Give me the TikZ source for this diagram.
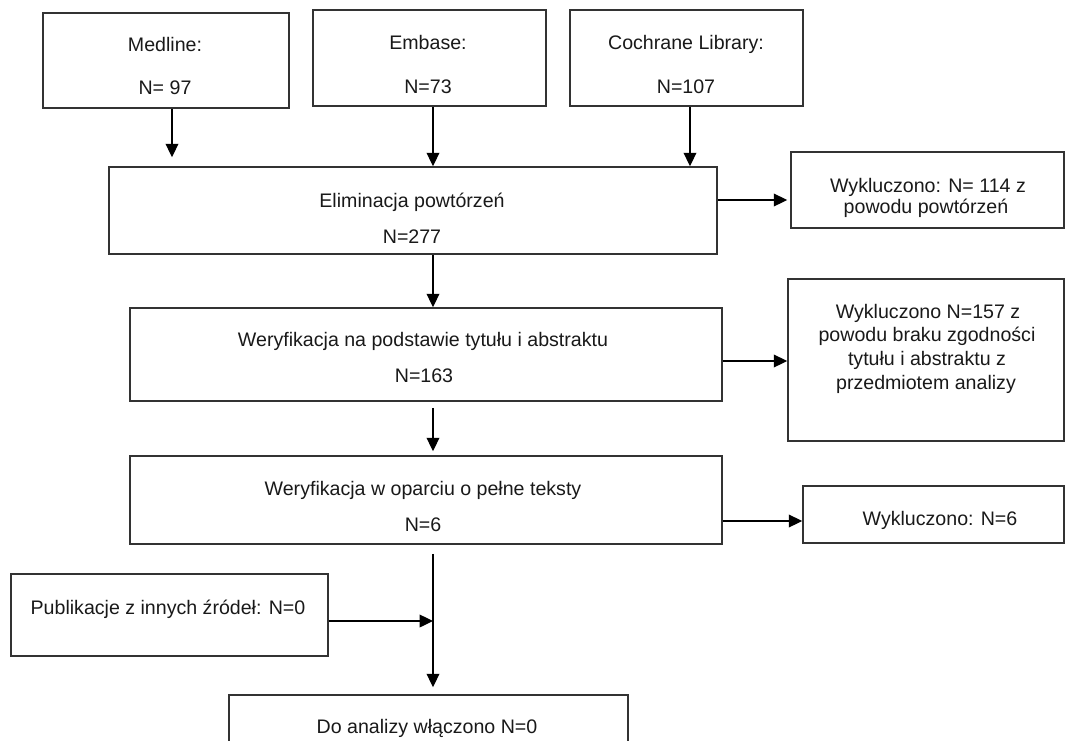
\documentclass[tikz,border=0pt]{standalone}
\usepackage{fontspec}
\setmainfont{Liberation Sans}
\usetikzlibrary{arrows.meta,fit}
\begin{document}
\begin{tikzpicture}[x=0.75pt,y=-0.75pt,
  box/.style={draw=black!80,line width=1.2pt,inner sep=0pt,rectangle},
  txt/.style={anchor=base,inner sep=0pt,font=\fontsize{14.7}{17}\selectfont,text=black!90},
  arr/.style={draw=black,line width=1pt,-{Triangle[length=10pt,width=9.5pt]}},
  ln/.style={draw=black,line width=1pt}]
\useasboundingbox (0,0) rectangle (1065,740);
\clip (0,0) rectangle (1065,740);
% boxes
\node[box,fit={(43,13) (289,108)}] (medline) {};
\node[box,fit={(313,10) (546,106)}] (embase) {};
\node[box,fit={(570,10) (803,106)}] (cochrane) {};
\node[box,fit={(109,167) (717,254)}] (elim) {};
\node[box,fit={(791,152) (1064,228)}] (wyk1) {};
\node[box,fit={(130,308) (722,401)}] (veri1) {};
\node[box,fit={(788,279) (1064,441)}] (wyk2) {};
\node[box,fit={(130,456) (722,544)}] (veri2) {};
\node[box,fit={(803,486) (1064,543)}] (wyk3) {};
\node[box,fit={(11,574) (328,656)}] (pub) {};
\node[box,fit={(229,695) (628,770)}] (final) {};
% texts
\node[txt] (t1a) at (165,51) {Medline:};
\node[txt] (t1b) at (165,94) {N= 97};
\node[txt] (t2a) at (428,49) {Embase:};
\node[txt] (t2b) at (428,93) {N=73};
\node[txt] (t3a) at (686,49) {Cochrane Library:};
\node[txt] (t3b) at (686,93) {N=107};
\node[txt] (t4a) at (412,207) {Eliminacja powtórzeń};
\node[txt] (t4b) at (412,243) {N=277};
\node[txt] (t5a) at (928,192) {Wykluczono: N= 114 z};
\node[txt] (t5b) at (926,213) {powodu powtórzeń};
\node[txt] (t6a) at (423,346) {Weryfikacja na podstawie tytułu i abstraktu};
\node[txt] (t6b) at (424,382) {N=163};
\node[txt] (t7a) at (928,318) {Wykluczono N=157 z};
\node[txt] (t7b) at (927,341) {powodu braku zgodności};
\node[txt] (t7c) at (927,365) {tytułu i abstraktu z};
\node[txt] (t7d) at (926,389) {przedmiotem analizy};
\node[txt] (t8a) at (423,495) {Weryfikacja w oparciu o pełne teksty};
\node[txt] (t8b) at (423,531) {N=6};
\node[txt] (t9) at (940,525) {Wykluczono: N=6};
\node[txt] (t10) at (168,614) {Publikacje z innych źródeł: N=0};
\node[txt] (t11) at (427,733) {Do analizy włączono N=0};
% connector guide coordinates
\coordinate (xm) at (172,0);
\coordinate (xe) at (433,0);
\coordinate (xc) at (690,0);
\coordinate (join) at (433,621);
\coordinate (y1) at (0,200);
\coordinate (y2) at (0,361);
\coordinate (y3) at (0,521);
% connectors
\draw[arr,shorten >=6.75pt] (medline.south -| xm) -- (elim.north -| xm);
\draw[arr] (embase.south -| xe) -- (elim.north -| xe);
\draw[arr] (cochrane.south -| xc) -- (elim.north -| xc);
\draw[arr] (elim.south -| xe) -- (veri1.north -| xe);
\draw[arr,shorten <=4.5pt,shorten >=3pt] (veri1.south -| xe) -- (veri2.north -| xe);
\draw[arr,shorten <=6.75pt,shorten >=5.25pt] (veri2.south -| xe) -- (final.north -| xe);
\draw[arr] (pub.east |- join) -- (join);
\draw[arr,shorten >=2.25pt] (elim.east |- y1) -- (wyk1.west |- y1);
\draw[arr] (veri1.east |- y2) -- (wyk2.west |- y2);
\draw[arr] (veri2.east |- y3) -- (wyk3.west |- y3);
\end{tikzpicture}
\end{document}
